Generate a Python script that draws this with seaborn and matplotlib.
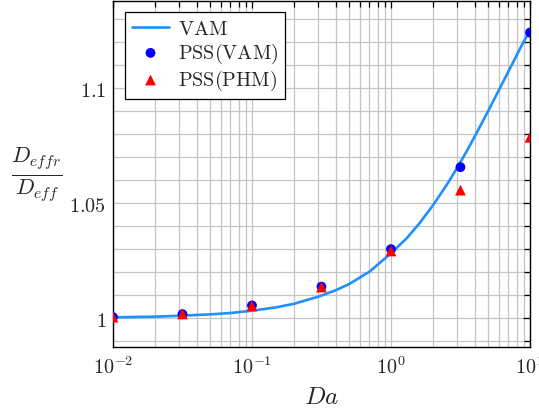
import numpy as np
import pandas as pd
import matplotlib
matplotlib.use("Agg")
import matplotlib.pyplot as plt
import matplotlib.ticker as mticker
import seaborn as sns

# ---- data ----
line_da = [0.01, 0.015, 0.02, 0.03, 0.05, 0.07, 0.1, 0.15, 0.2, 0.3, 0.4, 0.5, 0.7,
           1.0, 1.3, 1.6, 2.0, 2.5, 3.0, 3.5, 4.0, 5.0, 6.0, 7.0, 8.0, 9.0, 10.0]
line_vam = [1.0003, 1.0005, 1.0006, 1.0010, 1.0016, 1.0022, 1.0032, 1.0047, 1.0062,
            1.0093, 1.0121, 1.0148, 1.0202, 1.0282, 1.0348, 1.0412, 1.0490, 1.0577,
            1.0655, 1.0726, 1.0790, 1.0901, 1.0995, 1.1074, 1.1143, 1.1203, 1.1252]

pts_da = [0.01, 0.0316, 0.1, 0.316, 1.0, 3.16, 10.0]
pss_vam = [1.0004, 1.0017, 1.0055, 1.0137, 1.0300, 1.0657, 1.1243]
pss_phm = [1.0004, 1.0018, 1.0053, 1.0135, 1.0292, 1.0557, 1.0787]

y_ticks = [1.0, 1.05, 1.1]
y_tick_labels = ["1", "1.05", "1.1"]

line_df = pd.DataFrame({"Da": line_da, "val": line_vam})
pts_df = pd.DataFrame({"Da": pts_da, "vam": pss_vam, "phm": pss_phm})

sns.set_theme(style="white")
plt.rcParams["mathtext.fontset"] = "cm"
plt.rcParams["font.family"] = ["DejaVu Serif"]

fig = plt.figure(figsize=(5.39, 4.14), dpi=100)
ax = fig.add_axes([0.2096, 0.1594, 0.9833 - 0.2096, 0.995 - 0.1594])

sns.lineplot(data=line_df, x="Da", y="val", ax=ax, color="#1E90FF", linewidth=1.9,
             label=r"$\mathrm{VAM}$", zorder=3)
sns.scatterplot(data=pts_df, x="Da", y="vam", ax=ax, color="#0000FF", marker="o", s=50,
                edgecolor="none", label=r"$\mathrm{PSS(VAM)}$", zorder=4)
sns.scatterplot(data=pts_df, x="Da", y="phm", ax=ax, color="#FF0000", marker="^", s=60,
                edgecolor="none", label=r"$\mathrm{PSS(PHM)}$", zorder=5)

ax.set_xscale("log")
ax.set_xlim(0.01, 10)
ax.set_ylim(0.9874, 1.138)

ax.yaxis.set_major_locator(mticker.FixedLocator(y_ticks))
ax.yaxis.set_major_formatter(mticker.FixedFormatter([r"$%s$" % t for t in y_tick_labels]))
ax.yaxis.set_minor_locator(mticker.MultipleLocator(0.01))
ax.xaxis.set_major_locator(mticker.LogLocator(base=10, numticks=10))
ax.xaxis.set_major_formatter(mticker.FuncFormatter(lambda v, p: r"$10^{%d}$" % round(np.log10(v))))
ax.xaxis.set_minor_locator(mticker.LogLocator(base=10, subs=np.arange(2, 10), numticks=20))
ax.xaxis.set_minor_formatter(mticker.NullFormatter())

ax.grid(True, which="both", color="#c4c4c4", linewidth=0.9)
ax.set_axisbelow(True)

ax.tick_params(which="both", direction="in", top=True, right=True, color="black",
               width=0.9, labelsize=14.5)
ax.tick_params(which="major", length=5)
ax.tick_params(which="minor", length=4.5)
ax.tick_params(axis="x", pad=6)
ax.tick_params(axis="y", pad=5)

for s in ax.spines.values():
    s.set_visible(True)
    s.set_color("black")
    s.set_linewidth(1.0)

ax.set_xlabel("")
ax.set_ylabel("")
fig.text(322 / 539, 1 - 398 / 414, r"$Da$", fontsize=18, ha="center", va="center")
fig.text(37 / 539, 1 - 175 / 414, r"$\frac{D_{effr}}{D_{eff}}$", fontsize=23,
         ha="center", va="center")

leg = ax.legend(loc="upper left", bbox_to_anchor=(0.02, 0.98), frameon=True, fancybox=False,
                edgecolor="black", fontsize=14.5, handlelength=1.8, borderpad=0.35,
                labelspacing=0.15, handletextpad=0.45, borderaxespad=0.2)
leg.get_frame().set_linewidth(0.9)
leg.get_frame().set_alpha(1)

fig.savefig("out.png", dpi=100)
